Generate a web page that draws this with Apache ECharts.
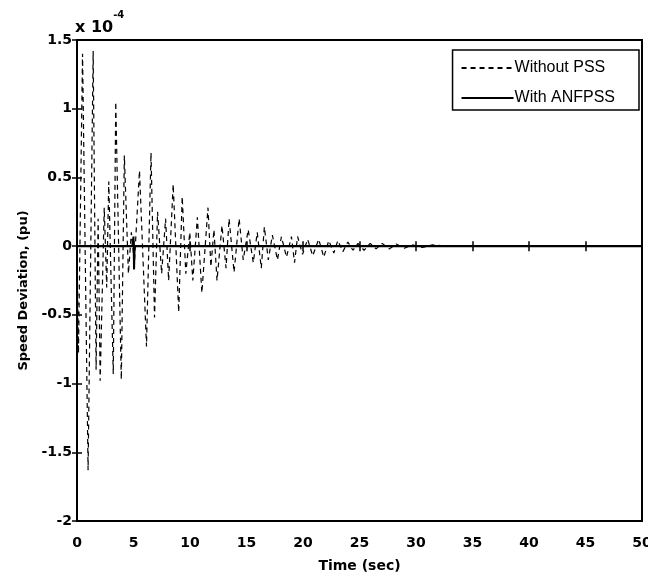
<!DOCTYPE html>
<html><head><meta charset="utf-8">
<script src="https://cdn.jsdelivr.net/npm/echarts@6/dist/echarts.min.js"></script>
<style>html,body{margin:0;padding:0;background:#fff}#c{width:648px;height:577px}</style>
</head><body><div id="c"></div>
<script>
// Without PSS: time (s) and speed deviation (x 1e-4 pu)
const timeWithout = [0, 0.13, 0.49, 0.98, 1.43, 1.69, 1.87, 2.05, 2.41, 2.63, 2.81, 3.21, 3.43, 3.92, 4.19, 4.55, 4.81, 5.08, 5.53, 6.15, 6.55, 6.86, 7.13, 7.49, 7.84, 8.11, 8.51, 9.00, 9.31, 9.63, 9.98, 10.25, 10.65, 11.05, 11.59, 11.85, 12.12, 12.39, 12.83, 13.19, 13.46, 13.90, 14.35, 14.71, 15.15, 15.60, 15.95, 16.31, 16.58, 16.93, 17.29, 17.74, 18.09, 18.54, 18.98, 19.25, 19.52, 19.96, 20.41, 20.86, 21.39, 21.84, 22.28, 22.73, 23.08, 23.53, 23.97, 24.42, 24.87, 25.40, 25.94, 26.47, 27.01, 27.63, 28.25, 28.97, 29.68, 30.57, 31.46, 32.60];
const speedWithout = [0, -0.78, 1.40, -1.63, 1.42, -0.90, 0.20, -0.98, 0.28, -0.30, 0.47, -0.93, 1.05, -0.97, 0.66, -0.20, 0.10, -0.12, 0.55, -0.73, 0.68, -0.52, 0.25, -0.20, 0.20, -0.25, 0.45, -0.48, 0.36, -0.20, 0.10, -0.25, 0.21, -0.34, 0.28, -0.15, 0.12, -0.25, 0.15, -0.16, 0.20, -0.19, 0.20, -0.10, 0.12, -0.12, 0.10, -0.16, 0.14, -0.10, 0.08, -0.10, 0.07, -0.08, 0.07, -0.12, 0.07, -0.06, 0.05, -0.07, 0.05, -0.08, 0.04, -0.05, 0.04, -0.04, 0.03, -0.03, 0.02, -0.03, 0.02, -0.02, 0.02, -0.02, 0.015, -0.015, 0.01, -0.01, 0.01, 0];
// With ANFPSS
const timeWith = [0, 4.9, 5.0, 5.05, 5.1, 50];
const speedWith = [0, 0, 0.07, -0.17, 0, 0];
const seriesNames = ['Without PSS', 'With ANFPSS'];

const FONT = '"DejaVu Sans", sans-serif';
const LFONT = '"Liberation Sans", Arial, sans-serif';
const zip = (a, b) => a.map((v, i) => [v, b[i]]);
const chart = echarts.init(document.getElementById('c'));
const tickStyle = { inside: true, length: 5, lineStyle: { color: '#000', width: 1.5 } };
const lineStyle = { lineStyle: { color: '#000', width: 2 } };
chart.setOption({
  animation: false,
  backgroundColor: '#fff',
  grid: { left: 77, right: 6, top: 40, bottom: 56, show: true, borderColor: '#000', borderWidth: 2,
          containLabel: false, outerBoundsMode: 'none' },
  xAxis: [
    { type: 'value', min: 0, max: 50, interval: 5, position: 'bottom',
      axisLine: lineStyle, axisTick: tickStyle, splitLine: { show: false },
      axisLabel: { color: '#000', fontFamily: FONT, fontWeight: 'bold', fontSize: 14, margin: 15 },
      name: 'Time (sec)', nameLocation: 'middle', nameGap: 38,
      nameTextStyle: { color: '#000', fontFamily: FONT, fontWeight: 'bold', fontSize: 14 } },
    { type: 'value', min: 0, max: 50, interval: 5, position: 'top',
      axisLine: lineStyle, axisTick: tickStyle, axisLabel: { show: false }, splitLine: { show: false } }
  ],
  yAxis: [
    { type: 'value', min: -2, max: 1.5, interval: 0.5, position: 'left',
      axisLine: lineStyle, axisTick: tickStyle, splitLine: { show: false },
      axisLabel: { color: '#000', fontFamily: FONT, fontWeight: 'bold', fontSize: 14, margin: 5 },
      name: 'Speed Deviation, (pu)', nameLocation: 'middle', nameGap: 47,
      nameTextStyle: { color: '#000', fontFamily: FONT, fontWeight: 'bold', fontSize: 13, padding: [0, 0, 0, -20] } },
    { type: 'value', min: -2, max: 1.5, interval: 0.5, position: 'right',
      axisLine: lineStyle, axisTick: tickStyle, axisLabel: { show: false }, splitLine: { show: false } }
  ],
  legend: {
    data: seriesNames, orient: 'vertical', right: 9, top: 50, icon: 'inherit',
    borderColor: '#000', borderWidth: 1.5, padding: [10, 24, 4, 8],
    itemWidth: 52, itemHeight: 14, itemGap: 14,
    itemStyle: { opacity: 0, color: 'rgba(0,0,0,0)', borderWidth: 0 },
    textStyle: { color: '#000', fontFamily: LFONT, fontSize: 16, padding: [0, 0, 0, -4] }
  },
  graphic: [{
    type: 'text', left: 75, top: 10,
    style: {
      text: '{a|x 10}{b|-4}', fill: '#000',
      rich: {
        a: { fontFamily: FONT, fontWeight: 'bold', fontSize: 16, verticalAlign: 'bottom', lineHeight: 26, fill: '#000' },
        b: { fontFamily: FONT, fontWeight: 'bold', fontSize: 10, verticalAlign: 'top', lineHeight: 26, fill: '#000' }
      }
    }
  }],
  series: [
    { name: seriesNames[0], type: 'line', data: zip(timeWithout, speedWithout), symbol: 'none',
      lineStyle: { color: '#000', width: 1.2, type: [5, 4] }, itemStyle: { color: '#000' } },
    { name: seriesNames[1], type: 'line', data: zip(timeWith, speedWith), symbol: 'none',
      lineStyle: { color: '#000', width: 2, type: 'solid' }, itemStyle: { color: '#000' } }
  ]
});
</script></body></html>
